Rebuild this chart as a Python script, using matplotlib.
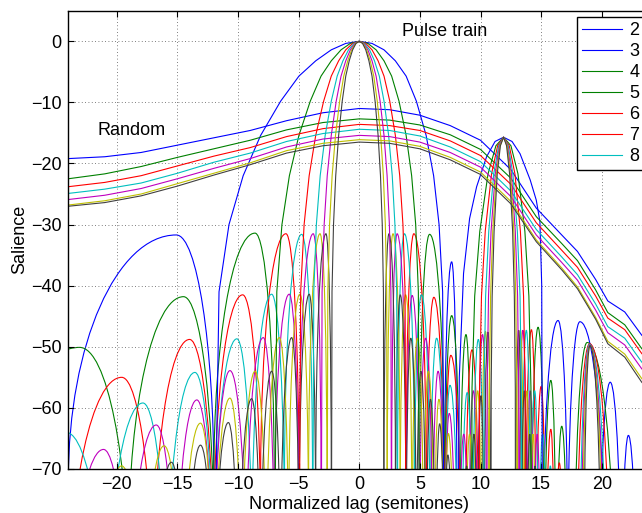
import matplotlib
matplotlib.use("Agg")
import matplotlib.pyplot as plt
from matplotlib.path import Path
from matplotlib.patches import PathPatch

plt.rcParams['font.family'] = ['Liberation Sans', 'DejaVu Sans']

# ---------------- data ----------------
orders = [2, 3, 4, 5, 6, 7, 8]
colors = ['#0000ff', '#008000', '#ff0000', '#00bfbf', '#bf00bf', '#bfbf00', '#404040']

# Random-signal salience curves
rand_x = [-24, -21, -18, -15, -12, -9, -6, -3, 0, 2.5, 5, 7.5, 10, 12.5, 14.6, 16.7, 18, 19.5, 20.5, 21.9, 23.3, 24]
rand2 = [-19.2, -18.9, -18.2, -17.0, -15.8, -14.6, -13.0, -11.7, -11.0, -11.2, -12.1, -13.8, -16.2, -21.0, -27.3, -31.7, -34.4, -39.0, -42.5, -44.3, -48.1, -49.5]
rand3 = [-22.5, -21.7, -20.5, -19.0, -17.6, -16.2, -14.5, -13.3, -12.7, -12.9, -13.7, -15.3, -17.7, -22.4, -28.7, -33.1, -35.9, -40.7, -44.4, -46.4, -50.3, -51.8]
rand4 = [-23.8, -23.1, -22.0, -20.4, -18.8, -17.4, -15.6, -14.3, -13.6, -13.8, -14.6, -16.3, -18.7, -23.4, -29.7, -34.2, -37.0, -41.7, -45.3, -47.2, -51.1, -52.6]
rand5 = [-24.9, -24.2, -23.2, -21.6, -19.8, -18.3, -16.4, -15.1, -14.4, -14.6, -15.5, -17.3, -19.7, -24.5, -30.8, -35.3, -38.2, -43.0, -46.7, -48.6, -52.5, -54.0]
rand6 = [-25.9, -25.2, -24.1, -22.5, -20.8, -19.2, -17.3, -16.0, -15.4, -15.6, -16.5, -18.2, -20.6, -25.4, -31.7, -36.2, -39.1, -44.0, -47.7, -49.7, -53.6, -55.1]
rand7 = [-26.8, -26.1, -25.0, -23.3, -21.6, -19.9, -17.9, -16.7, -16.1, -16.3, -17.2, -19.0, -21.4, -26.2, -32.5, -37.1, -40.2, -45.2, -49.1, -51.2, -55.2, -56.7]
rand8 = [-27.0, -26.4, -25.3, -23.7, -21.9, -20.2, -18.3, -17.1, -16.5, -16.7, -17.6, -19.4, -21.8, -26.6, -32.8, -37.4, -40.5, -45.5, -49.5, -51.7, -55.8, -57.3]

# Pulse train: main lobe at 0 semitones
main_db = [-95, -41, -30, -22, -15.4, -9.8, -5.7, -3.2, -1.4, -0.35, 0, -0.35, -1.4, -3.2, -5.7, -9.8, -15.4, -22, -30, -41, -95]
main2_x = [-12.0, -11.572, -10.750, -9.580, -8.137, -6.487, -4.980, -3.595, -2.312, -1.117, 0, 1.050, 2.039, 2.975, 3.863, 4.708, 5.513, 6.132, 6.581, 6.875, 7.020]
main3_x = [-7.020, -6.805, -6.382, -5.767, -4.980, -4.044, -3.156, -2.312, -1.506, -0.737, 0, 0.707, 1.386, 2.039, 2.669, 3.276, 3.863, 4.319, 4.653, 4.872, 4.980]
main4_x = [-4.980, -4.837, -4.553, -4.136, -3.595, -2.941, -2.312, -1.704, -1.117, -0.550, 0, 0.533, 1.050, 1.551, 2.039, 2.513, 2.975, 3.336, 3.601, 3.776, 3.863]
main5_x = [-3.863, -3.755, -3.542, -3.226, -2.814, -2.312, -1.824, -1.350, -0.888, -0.438, 0, 0.427, 0.845, 1.252, 1.650, 2.039, 2.420, 2.718, 2.939, 3.084, 3.156]
main6_x = [-3.156, -3.070, -2.899, -2.645, -2.312, -1.904, -1.506, -1.117, -0.737, -0.364, 0, 0.357, 0.707, 1.050, 1.386, 1.716, 2.039, 2.294, 2.482, 2.607, 2.669]
main7_x = [-2.669, -2.597, -2.454, -2.241, -1.962, -1.619, -1.283, -0.953, -0.630, -0.312, 0, 0.306, 0.607, 0.903, 1.194, 1.481, 1.762, 1.984, 2.149, 2.258, 2.312]
main8_x = [-2.312, -2.251, -2.127, -1.945, -1.704, -1.408, -1.117, -0.831, -0.550, -0.273, 0, 0.268, 0.533, 0.793, 1.050, 1.302, 1.551, 1.748, 1.894, 1.991, 2.039]

# Pulse train: octave lobe near 12 semitones
oct2_x = [8.05, 8.25, 8.6, 9.1, 9.68, 10.5, 11.2, 11.9, 12.6, 13.26, 14.1, 14.6, 14.9, 15.05, 15.15]
oct2_y = [-110, -55, -38, -29, -23.8, -18.9, -16.4, -15.7, -16.4, -18.4, -22.7, -26.0, -29.5, -40, -110]
oct_db = [-110.7, -56.7, -41.7, -31.1, -21.7, -17.1, -15.7, -17.1, -21.7, -31.1, -41.7, -56.7, -110.7]
oct3_x = [9.23, 9.30, 9.52, 9.94, 10.62, 11.27, 11.9, 12.51, 13.09, 13.66, 13.99, 14.16, 14.21]
oct4_x = [9.86, 9.92, 10.08, 10.39, 10.91, 11.41, 11.9, 12.37, 12.84, 13.29, 13.55, 13.68, 13.72]
oct5_x = [10.25, 10.29, 10.42, 10.68, 11.09, 11.50, 11.9, 12.29, 12.67, 13.04, 13.26, 13.37, 13.41]
oct6_x = [10.51, 10.55, 10.66, 10.87, 11.22, 11.56, 11.9, 12.23, 12.55, 12.87, 13.06, 13.15, 13.18]
oct7_x = [10.71, 10.74, 10.83, 11.01, 11.31, 11.61, 11.9, 12.19, 12.47, 12.75, 12.91, 12.99, 13.02]
oct8_x = [10.85, 10.88, 10.96, 11.12, 11.38, 11.64, 11.9, 12.15, 12.40, 12.65, 12.79, 12.87, 12.89]

# Pulse train side lobes: (left null, peak lag, peak salience, right null)
lobes2 = [(-24.0, -15.1, -31.7, -12.0), (7.02, 7.62, -36.1, 8.05),
          (15.15, 16.4, -45.7, 17.2), (17.2, 18.2, -45.9, 20.2), (19.8, 20.7, -55.8, 21.6),
          (21.6, 22.2, -64.5, 22.9), (22.9, 24.2, -62.0, 25.5)]
lobes3 = [(-31.0, -23.07, -50.1, -19.02), (-19.02, -14.5, -41.8, -12.0), (-12.0, -8.6, -31.4, -7.02),
          (4.98, 5.8, -31.6, 7.02), (7.02, 7.62, -44.9, 8.3), (8.3, 8.8, -48.0, 9.23),
          (14.21, 14.75, -46.8, 15.26), (15.26, 15.8, -55.5, 16.25), (16.25, 16.7, -63.0, 17.18),
          (17.77, 18.8, -49.3, 20.98)]
lobes4 = [(-24.0, -19.6, -55.0, -16.98), (-16.98, -14.0, -48.8, -12.0), (-12.0, -9.62, -41.5, -8.14),
          (-8.14, -6.05, -31.5, -4.98),
          (3.86, 4.5, -31.5, 5.51), (5.51, 6.15, -41.9, 7.02), (7.02, 7.55, -51.4, 8.41),
          (8.74, 9.3, -50.5, 9.86),
          (13.72, 14.2, -47.2, 14.57), (14.57, 15.0, -56.5, 15.37), (15.37, 15.8, -63.5, 16.13),
          (16.13, 16.5, -69.0, 16.88), (17.97, 19.0, -49.5, 20.6)]
lobes5 = [(-27.9, -24.2, -64.0, -20.84), (-20.84, -17.85, -59.2, -15.86), (-15.86, -13.56, -54.2, -12.0),
          (-12.0, -10.1, -48.7, -8.84), (-8.84, -7.23, -41.4, -6.17), (-6.17, -4.75, -31.6, -3.86),
          (3.16, 3.72, -31.5, 4.54), (4.54, 5.13, -41.5, 5.83), (5.83, 6.38, -48.6, 7.02),
          (7.02, 7.48, -56.3, 8.14), (8.43, 8.9, -57.5, 9.36), (9.36, 9.82, -48.8, 10.25),
          (13.41, 13.78, -47.3, 14.12), (14.12, 14.47, -57.2, 14.79), (14.79, 15.13, -64.3, 15.45),
          (15.45, 15.76, -69.5, 16.07), (18.2, 19.0, -49.6, 20.32)]
lobes6 = [(-24.0, -21.1, -66.8, -19.02), (-19.02, -16.75, -62.8, -15.16), (-15.16, -13.4, -58.7, -12.0),
          (-12.0, -10.67, -53.9, -9.33), (-9.33, -7.92, -48.5, -7.02), (-7.02, -5.78, -41.4, -4.98),
          (-4.98, -3.8, -31.5, -3.16),
          (2.67, 3.12, -31.5, 3.86), (3.86, 4.36, -41.6, 4.98), (4.98, 5.47, -48.6, 6.03),
          (6.03, 6.5, -54.0, 7.02), (7.02, 7.42, -60.9, 7.95),
          (8.20, 8.62, -64.3, 9.01), (9.01, 9.41, -57.2, 9.78), (9.78, 10.17, -48.0, 10.51),
          (13.18, 13.5, -47.3, 13.79), (13.79, 14.1, -57.2, 14.38), (14.38, 14.68, -64.3, 14.95),
          (18.31, 19.02, -49.7, 20.14)]
lobes7 = [(-21.69, -19.6, -69.5, -17.83), (-17.83, -16.1, -66.2, -14.67), (-14.67, -13.1, -62.5, -12.0),
          (-12.0, -10.67, -58.4, -9.69), (-9.69, -8.6, -54.0, -7.65), (-7.65, -6.6, -48.5, -5.83),
          (-5.83, -4.9, -41.4, -4.18), (-4.18, -3.24, -31.5, -2.669),
          (2.31, 2.78, -31.5, 3.36), (3.36, 3.82, -41.5, 4.35), (4.35, 4.79, -48.6, 5.29),
          (5.29, 5.7, -54.0, 6.17), (6.17, 6.57, -58.6, 7.02), (7.02, 7.35, -64.2, 7.82),
          (8.74, 9.1, -64.3, 9.43), (9.43, 9.77, -57.2, 10.08), (10.08, 10.41, -47.5, 10.71),
          (13.02, 13.3, -47.3, 13.55), (13.55, 13.82, -57.2, 14.07), (14.07, 14.33, -64.3, 14.57),
          (18.42, 19.03, -49.8, 20.03)]
lobes8 = [(-16.98, -15.5, -68.9, -14.31), (-14.31, -13.1, -66.1, -12.0), (-12.0, -10.8, -62.4, -9.96),
          (-9.96, -8.88, -58.5, -8.14), (-8.14, -7.23, -54.0, -6.49), (-6.49, -5.58, -48.5, -4.98),
          (-4.98, -4.13, -41.4, -3.59), (-3.59, -2.75, -31.5, -2.312),
          (2.04, 2.45, -31.5, 2.98), (2.98, 3.38, -41.5, 3.86), (3.86, 4.25, -48.6, 4.71),
          (4.71, 5.08, -54.0, 5.51), (5.51, 5.87, -58.6, 6.28), (6.28, 6.63, -62.6, 7.02),
          (7.02, 7.3, -67.7, 7.73),
          (8.54, 8.85, -69.5, 9.15), (9.15, 9.46, -64.3, 9.74), (9.74, 10.04, -58.0, 10.30),
          (10.30, 10.62, -47.6, 10.85),
          (12.89, 13.15, -47.3, 13.36), (13.36, 13.62, -57.2, 13.82), (13.82, 14.06, -64.3, 14.28),
          (14.28, 14.5, -69.5, 14.72), (18.54, 19.03, -49.8, 19.91)]

x_ticks = [-20, -15, -10, -5, 0, 5, 10, 15, 20]
y_ticks = [-70, -60, -50, -40, -30, -20, -10, 0]

# ---------------- figure ----------------
fig = plt.figure(figsize=(6.42, 5.13), dpi=100)
ax = fig.add_axes([0.1065, 0.0858, 0.9063, 0.8933])

rands = [rand2, rand3, rand4, rand5, rand6, rand7, rand8]
mains = [main2_x, main3_x, main4_x, main5_x, main6_x, main7_x, main8_x]
octs = [oct2_x, oct3_x, oct4_x, oct5_x, oct6_x, oct7_x, oct8_x]
lobes = [lobes2, lobes3, lobes4, lobes5, lobes6, lobes7, lobes8]

LW = 0.8
K = 0.5523  # quarter-ellipse arch drawn by Bezier curves
handles = []
for i, n in enumerate(orders):
    c = colors[i]
    hr, = ax.plot(rand_x, rands[i], color=c, lw=LW)
    hp, = ax.plot(mains[i], main_db, color=c, lw=LW)
    if i == 0:
        ax.plot(oct2_x, oct2_y, color=c, lw=LW)
    else:
        ax.plot(octs[i], oct_db, color=c, lw=LW)
    for (xl, xp, yp, xr) in lobes[i]:
        verts = [(xl, yp - 40), (xl, yp - 40 + K * 40), (xp - K * (xp - xl), yp), (xp, yp),
                 (xp + K * (xr - xp), yp), (xr, yp - 40 + K * 40), (xr, yp - 40)]
        codes = [Path.MOVETO] + [Path.CURVE4] * 6
        ax.add_patch(PathPatch(Path(verts, codes), fill=False, edgecolor=c, lw=LW))
    handles += [hr, hp]

ax.set_xlim(-24, 24)
ax.set_ylim(-70, 5)
ax.set_xticks(x_ticks)
ax.set_yticks(y_ticks)
ax.tick_params(direction='in', top=True, right=True, labelsize=13, length=4, width=0.8, pad=5)
ax.grid(True, color='#555555', linestyle=(0, (1, 3)), linewidth=0.6)
for s in ax.spines.values():
    s.set_linewidth(1.0)

ax.set_xlabel('Normalized lag (semitones)', fontsize=13, labelpad=2)
ax.set_ylabel('Salience', fontsize=13, labelpad=2)

ax.text(-21.6, -14.6, 'Random', fontsize=13, ha='left', va='center')
ax.text(3.5, 1.6, 'Pulse train', fontsize=13, ha='left', va='center')

leg = ax.legend(handles[:7], [str(n) for n in orders], loc='upper right',
                bbox_to_anchor=(0.991, 0.987), fontsize=13, frameon=True, fancybox=False,
                framealpha=1, edgecolor='black', handlelength=2.2, handletextpad=0.4,
                labelspacing=0.22, borderpad=0.3, borderaxespad=0)
leg.get_frame().set_linewidth(1.0)

fig.savefig('out.png', dpi=100)
